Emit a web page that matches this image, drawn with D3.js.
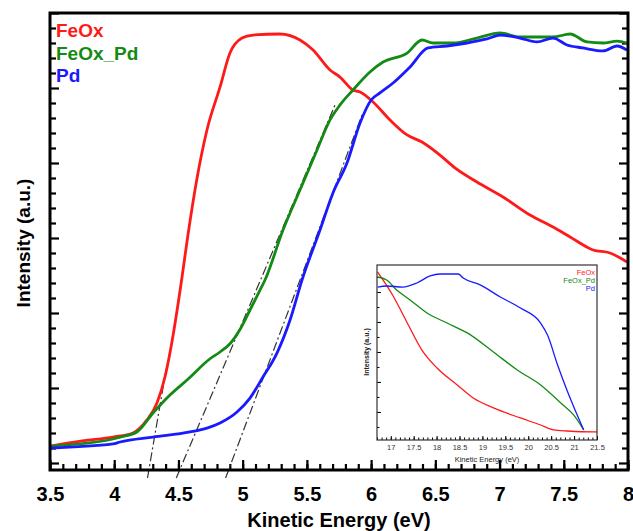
<!DOCTYPE html>
<html>
<head>
<meta charset="utf-8">
<script src="https://cdn.jsdelivr.net/npm/d3@7"></script>
<style>
  body { margin: 0; background: #fff; }
  svg { display: block; font-family: Arial, "Liberation Sans", sans-serif; }
</style>
</head>
<body>
<svg width="633" height="531"></svg>
<script>
// main plot: [kinetic energy (eV), intensity (a.u.)]
const feox = [
  [3.5, 1.13], [3.75, 1.47], [3.99, 1.73], [4.146, 2.0], [4.255, 2.87], [4.333, 4.0],
  [4.395, 5.73], [4.458, 8.5], [4.497, 10.6], [4.528, 12.4], [4.574, 15.2],
  [4.645, 19.0], [4.722, 22.2], [4.824, 25.07], [4.901, 27.33], [4.995, 28.33],
  [5.08, 28.53], [5.29, 28.6], [5.446, 28.2], [5.548, 27.53], [5.68, 26.2],
  [5.758, 25.73], [5.859, 24.87], [5.914, 24.73], [6.015, 24.07], [6.147, 22.87],
  [6.28, 21.87], [6.396, 21.4], [6.536, 20.53], [6.653, 19.67], [6.824, 18.73],
  [7.027, 17.73], [7.237, 16.53], [7.416, 15.73], [7.549, 15.07], [7.728, 14.2],
  [7.86, 14.0], [7.992, 13.4]
];
const feoxPd = [
  [3.5, 1.13], [3.99, 1.6], [4.045, 1.73], [4.177, 2.07], [4.302, 3.33], [4.434, 4.53],
  [4.567, 5.53], [4.746, 6.95], [4.824, 7.4], [4.901, 7.95], [4.979, 8.9],
  [5.057, 10.2], [5.135, 11.53], [5.174, 12.2], [5.314, 15.53], [5.446, 18.2],
  [5.579, 20.87], [5.68, 22.87], [5.758, 23.87], [5.859, 24.87], [5.991, 26.07],
  [6.093, 26.73], [6.28, 27.33], [6.396, 28.2], [6.482, 28.0], [6.638, 28.0],
  [6.824, 28.33], [7.004, 28.67], [7.159, 28.4], [7.292, 28.4], [7.416, 28.4],
  [7.549, 28.6], [7.681, 28.07], [7.806, 28.0], [7.915, 28.13], [7.992, 28.0]
];
const pd = [
  [3.5, 1.0], [3.99, 1.27], [4.045, 1.4], [4.302, 1.73], [4.59, 2.07], [4.722, 2.33],
  [4.824, 2.67], [4.956, 3.4], [5.057, 4.33], [5.158, 5.73], [5.267, 7.33],
  [5.369, 9.53], [5.462, 12.2], [5.602, 15.53], [5.703, 18.0], [5.812, 20.0],
  [5.914, 22.67], [6.0, 24.2], [6.069, 24.67], [6.171, 25.33], [6.303, 26.4],
  [6.443, 27.67], [6.591, 27.8], [6.747, 28.0], [6.902, 28.27], [7.004, 28.53],
  [7.159, 28.33], [7.292, 28.07], [7.416, 28.33], [7.525, 27.87], [7.65, 27.67],
  [7.806, 27.47], [7.915, 27.8], [7.992, 27.53]
];
// onset tangents
const tangents = [
  [[4.259, -1.0], [4.41, 6.53]],
  [[4.483, -1.0], [5.719, 23.87]],
  [[4.867, -1.0], [5.929, 23.2]]
];
const xTicks = [3.5, 4, 4.5, 5, 5.5, 6, 6.5, 7, 7.5, 8];

// inset: [kinetic energy (eV), intensity (a.u.)]
const insetFeox = [
  [16.715, 11.33], [17.04, 9.8], [17.35, 8.0], [17.68, 6.13], [18.01, 4.93],
  [18.45, 3.8], [18.8, 2.93], [19.24, 2.27], [19.83, 1.6], [20.27, 1.13],
  [20.55, 0.8], [20.86, 0.73], [21.43, 0.67], [21.5, 0.67]
];
const insetFeoxPd = [
  [16.715, 11.0], [16.91, 10.8], [17.13, 10.13], [17.42, 9.47], [17.79, 8.6],
  [18.23, 7.93], [18.67, 7.27], [19.24, 6.0], [19.76, 4.8], [20.27, 3.8],
  [20.71, 2.6], [20.99, 1.8], [21.21, 0.8]
];
const insetPd = [
  [16.715, 10.33], [16.91, 10.4], [17.26, 10.33], [17.57, 10.6], [17.86, 11.07],
  [18.07, 11.2], [18.47, 11.2], [18.58, 10.93], [18.95, 10.47], [19.39, 9.67],
  [19.83, 8.93], [20.27, 7.93], [20.42, 7.13], [20.64, 5.13], [20.86, 3.33],
  [21.04, 2.0], [21.21, 0.8]
];
const insetTicks = [17, 17.5, 18, 18.5, 19, 19.5, 20, 20.5, 21, 21.5];

const names = ["FeOx", "FeOx_Pd", "Pd"];
const colors = ["#ff1a1a", "#138a13", "#1a1aff"];

const svg = d3.select("svg");

// MAIN PLOT
const x = d3.scaleLinear().domain([3.5, 8]).range([50, 628]);
const y = d3.scaleLinear().domain([-0.467, 30]).range([470, 13]);

const line = d3.line()
  .x((d) => x(d[0]))
  .y((d) => y(d[1]))
  .curve(d3.curveMonotoneX);

svg.append("clipPath").attr("id", "clip")
  .append("rect")
  .attr("x", 50).attr("y", 13).attr("width", 578).attr("height", 457);

// minor + major ticks, bottom (pointing up)
const minorX = d3.range(35, 81).map((v) => v / 10);
svg.append("g")
  .attr("transform", "translate(0,470)")
  .call(d3.axisBottom(x).tickValues(minorX).tickSize(-6).tickFormat(""))
  .call((g) => g.select(".domain").remove());
svg.append("g")
  .attr("class", "xaxis")
  .attr("transform", "translate(0,470)")
  .call(d3.axisBottom(x).tickValues(xTicks).tickSize(-10).tickPadding(17).tickFormat(d3.format("")))
  .call((g) => g.select(".domain").remove());
svg.selectAll(".xaxis text")
  .attr("font-size", 20)
  .attr("font-weight", "bold")
  .attr("font-family", "Arial, 'Liberation Sans', sans-serif")
  .attr("fill", "#000");

// left + right ticks (inward)
const minorY = d3.range(0, 31);
[["left", 50], ["right", 628]].forEach(([side, pos]) => {
  const axis = side === "left" ? d3.axisLeft : d3.axisRight;
  svg.append("g")
    .attr("transform", `translate(${pos},0)`)
    .call(axis(y).tickValues(minorY.filter((v) => v % 5 !== 0)).tickSize(-6).tickFormat(""))
    .call((g) => g.select(".domain").remove());
  svg.append("g")
    .attr("transform", `translate(${pos},0)`)
    .call(axis(y).tickValues(minorY.filter((v) => v % 5 === 0)).tickSize(-9).tickFormat(""))
    .call((g) => g.select(".domain").remove());
});
svg.selectAll(".tick line").attr("stroke", "#000").attr("stroke-width", 2.2);

// tangents
svg.append("g")
  .selectAll("path")
  .data(tangents)
  .join("path")
  .attr("d", d3.line().x((d) => x(d[0])).y((d) => y(d[1])))
  .attr("fill", "none")
  .attr("stroke", "#333")
  .attr("stroke-width", 1.2)
  .attr("stroke-dasharray", "9,3,2,3");

// curves
svg.append("g")
  .attr("clip-path", "url(#clip)")
  .selectAll("path")
  .data([feox, feoxPd, pd])
  .join("path")
  .attr("d", line)
  .attr("fill", "none")
  .attr("stroke", (d, i) => colors[i])
  .attr("stroke-width", 2.8)
  .attr("stroke-linejoin", "round");

// frame
svg.append("rect")
  .attr("x", 50).attr("y", 13).attr("width", 578).attr("height", 457)
  .attr("fill", "none")
  .attr("stroke", "#000")
  .attr("stroke-width", 3);

// legend
svg.append("g")
  .selectAll("text")
  .data(names)
  .join("text")
  .attr("x", 56)
  .attr("y", (d, i) => 37 + i * 22.5)
  .attr("fill", (d, i) => colors[i])
  .attr("font-size", 19)
  .attr("font-weight", "bold")
  .text((d) => d);

// axis titles
svg.append("text")
  .attr("x", 339).attr("y", 527)
  .attr("text-anchor", "middle")
  .attr("font-size", 20)
  .attr("font-weight", "bold")
  .text("Kinetic Energy (eV)");
svg.append("text")
  .attr("transform", "translate(30,243) rotate(-90)")
  .attr("text-anchor", "middle")
  .attr("font-size", 19)
  .attr("font-weight", "bold")
  .text("Intensity (a.u.)");

// INSET
const ix = d3.scaleLinear().domain([16.7, 21.5]).range([377, 597]);
const iy = d3.scaleLinear().domain([0.13, 11.8]).range([440, 265]);
const iline = d3.line()
  .x((d) => ix(d[0]))
  .y((d) => iy(d[1]))
  .curve(d3.curveMonotoneX);

svg.append("rect")
  .attr("x", 377).attr("y", 265).attr("width", 220).attr("height", 175)
  .attr("fill", "#fff");

svg.append("g")
  .attr("transform", "translate(0,440)")
  .call(d3.axisBottom(ix).tickValues(d3.range(167, 216).map((v) => v / 10)).tickSize(-2.5).tickFormat(""))
  .call((g) => g.select(".domain").remove());
svg.append("g")
  .attr("class", "ixaxis")
  .attr("transform", "translate(0,440)")
  .call(d3.axisBottom(ix).tickValues(insetTicks).tickSize(-4).tickPadding(5).tickFormat(d3.format("")))
  .call((g) => g.select(".domain").remove());
svg.selectAll(".ixaxis text")
  .attr("font-size", 7.5)
  .attr("font-family", "Arial, 'Liberation Sans', sans-serif")
  .attr("fill", "#333");
svg.append("g")
  .attr("transform", "translate(377,0)")
  .call(d3.axisLeft(iy).tickValues(d3.range(1, 12)).tickSize(-2.5).tickFormat(""))
  .call((g) => g.select(".domain").remove());
svg.append("g")
  .attr("transform", "translate(377,0)")
  .call(d3.axisLeft(iy).tickValues(d3.range(2, 12, 2)).tickSize(-4).tickFormat(""))
  .call((g) => g.select(".domain").remove());

svg.append("g")
  .selectAll("path")
  .data([insetFeox, insetFeoxPd, insetPd])
  .join("path")
  .attr("d", iline)
  .attr("fill", "none")
  .attr("stroke", (d, i) => colors[i])
  .attr("stroke-width", 1.3);

svg.append("rect")
  .attr("x", 377).attr("y", 265).attr("width", 220).attr("height", 175)
  .attr("fill", "none")
  .attr("stroke", "#333")
  .attr("stroke-width", 1.2);

svg.append("g")
  .selectAll("text")
  .data(names)
  .join("text")
  .attr("x", 595)
  .attr("y", (d, i) => 275 + i * 8)
  .attr("text-anchor", "end")
  .attr("fill", (d, i) => colors[i])
  .attr("font-size", 7.5)
  .text((d) => d);

svg.append("text")
  .attr("x", 487).attr("y", 462)
  .attr("text-anchor", "middle")
  .attr("font-size", 7.5)
  .attr("fill", "#222")
  .text("Kinetic Energy (eV)");
svg.append("text")
  .attr("transform", "translate(369,352) rotate(-90)")
  .attr("text-anchor", "middle")
  .attr("font-size", 7)
  .attr("font-weight", "bold")
  .attr("fill", "#222")
  .text("Intensity (a.u.)");
</script>
</body>
</html>
